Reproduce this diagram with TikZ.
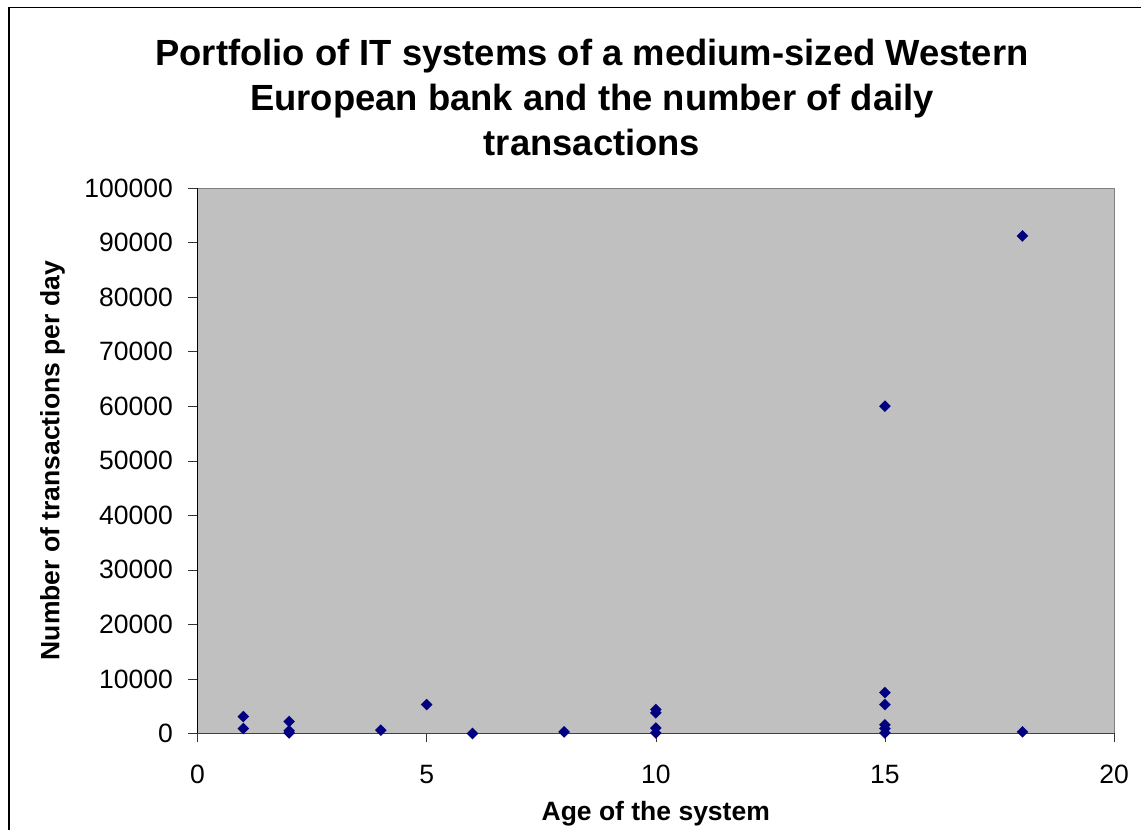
\documentclass[tikz,border=0pt]{standalone}
\usepackage{fontspec}
\setmainfont{Liberation Sans}
\usepackage{tikz}

\definecolor{plotbg}{HTML}{C0C0C0}
\definecolor{marker}{HTML}{000080}

\begin{document}
\begin{tikzpicture}[x=1pt,y=1pt,
		ticklabel/.style={font=\fontsize{26.5}{30}\selectfont,inner sep=0pt},
		axistitle/.style={font=\fontsize{26.5}{30}\selectfont\bfseries,inner sep=0pt}]
	\useasboundingbox[fill=white] (0,0) rectangle (1141,830);
	% chart frame (runs off at right and bottom)
	\draw[line width=1.5pt] (9,0) -- (9,822.5) -- (1141,822.5);
	\node[font=\fontsize{36.4}{45}\selectfont\bfseries,align=center,anchor=north,inner sep=0pt]
		(title) at (592,791) {Portfolio of IT systems of a medium-sized Western\\European bank and the number of daily\\transactions};
	% plot area
	\fill[plotbg] (197.5,96.5) rectangle (1114,642);
	\draw[gray] (197.5,642) -- (1114,642) -- (1114,96.5);
	\begin{scope}[shift={(197.5,96.5)},x=45.83pt,y=5.455pt]
		\foreach \v in {0,10,...,100} {
			\draw[black!80] (0,\v) -- ++(-9.5pt,0pt);
			\node[ticklabel,anchor=east,xshift=-24.5pt] at (0,\v) {\ifnum\v=0 0\else\v000\fi};
		}
		\foreach \a in {0,5,...,20} {
			\draw[black!80] (\a,0) -- ++(0pt,-8.5pt);
			\node[ticklabel,anchor=north,yshift=-31.5pt] at (\a,0) {\a};
		}
		\draw[line width=1pt] (0,0) -- (0,100);
		\draw[line width=1.5pt,black!75] (0,0) -- (20,0);
		% age / thousands of transactions
		\foreach \a/\n in {1/3.1,1/0.9,2/2.2,2/0.5,2/0.1,4/0.6,5/5.3,6/0,8/0.3,
				10/4.4,10/3.8,10/1.0,10/0.1,15/60,15/7.5,15/5.3,15/1.6,15/0.9,15/0.1,
				18/91.2,18/0.3}
			\fill[marker] (\a,\n) +(0pt,5.8pt) -- +(5.8pt,0pt) -- +(0pt,-5.8pt) -- +(-5.8pt,0pt) -- cycle;
	\end{scope}
	\node[axistitle,anchor=north] (xtitle) at (655.75,28.5) {Age of the system};
	\node[axistitle,rotate=90,anchor=north] (ytitle) at (40,369.25) {Number of transactions per day};
\end{tikzpicture}
\end{document}
